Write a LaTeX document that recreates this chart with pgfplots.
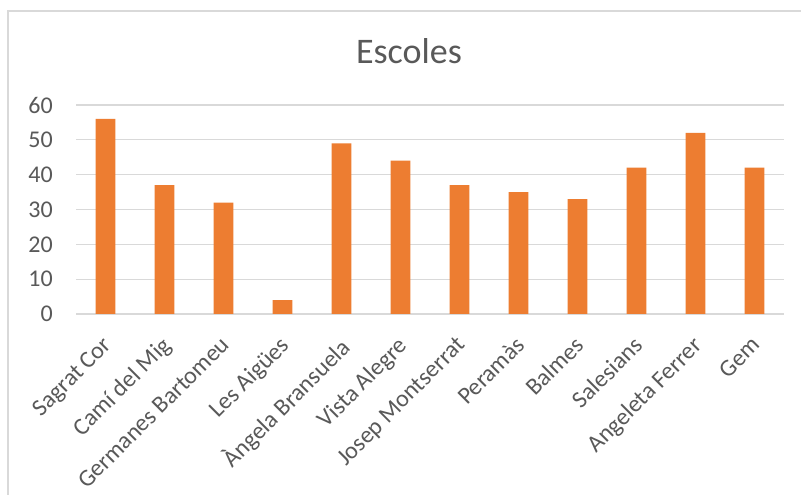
\documentclass[border=0pt]{standalone}
\usepackage{fontspec}
\setmainfont{Carlito}
\usepackage{pgfplots}
\pgfplotsset{compat=1.18}
\definecolor{barorange}{HTML}{ED7D31}
\definecolor{gridgray}{HTML}{D9D9D9}
\definecolor{txtgray}{HTML}{595959}
\begin{document}
\begin{tikzpicture}[x=1pt,y=1pt]
\useasboundingbox (0,0) rectangle (801,495);
\fill[white] (0,0) rectangle (801,495);
\draw[gridgray, line width=1.5pt] (8,0) -- (8,484) -- (801,484);
\node[font=\fontsize{36}{40}\selectfont, text=txtgray, anchor=base] at (409,431) {Escoles};
\begin{axis}[
  at={(76pt,181pt)}, anchor=south west,
  scale only axis, width=708pt, height=209pt,
  xmin=-0.5, xmax=11.5, ymin=0, ymax=60,
  ytick={0,10,20,30,40,50,60},
  xtick=data,
  xticklabels={Sagrat Cor, Camí del Mig, Germanes Bartomeu, Les Aigües, Àngela Bransuela, Vista Alegre, Josep Montserrat, Peramàs, Balmes, Salesians, Angeleta Ferrer, Gem},
  axis line style={draw=none},
  major tick length=0pt,
  ymajorgrids,
  grid style={gridgray, line width=1.3pt},
  /pgf/number format/assume math mode=true,
  tick label style={font=\fontsize{24}{28}\selectfont, text=txtgray},
  yticklabel style={anchor=east, inner sep=0pt, xshift=-23pt},
  xticklabel style={xshift=-4pt, yshift=-21pt, rotate=45, anchor=north east, inner sep=0pt},
  ybar, bar width=19.7pt,
]
\addplot[fill=barorange, draw=none] coordinates {
(0,56) (1,37) (2,32) (3,4) (4,49) (5,44) (6,37) (7,35) (8,33) (9,42) (10,52) (11,42)
};
\end{axis}
\end{tikzpicture}
\end{document}
